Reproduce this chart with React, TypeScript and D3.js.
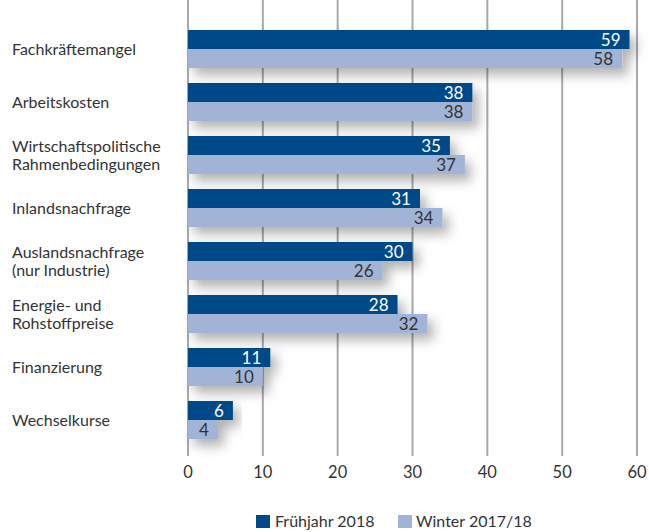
import React from "react";
import * as d3 from "d3";

const categories = [
  ["Fachkräftemangel"],
  ["Arbeitskosten"],
  ["Wirtschaftspolitische", "Rahmenbedingungen"],
  ["Inlandsnachfrage"],
  ["Auslandsnachfrage", "(nur Industrie)"],
  ["Energie- und", "Rohstoffpreise"],
  ["Finanzierung"],
  ["Wechselkurse"],
];
const fruehjahr2018 = [59, 38, 35, 31, 30, 28, 11, 6];
const winter2017 = [58, 38, 37, 34, 26, 32, 10, 4];
const ticks = [0, 10, 20, 30, 40, 50, 60];
const seriesNames = ["Frühjahr 2018", "Winter 2017/18"];

const W = 649;
const H = 532;
const DARK = "#004a89";
const LIGHT = "#a2b4d5";
const GRID = "#a9a9ab";
const TEXT = "#333333";
const FONT = "Lato, 'Noto Sans', sans-serif";

export default function App() {
  const x = d3.scaleLinear().domain([0, 60]).range([188, 637]);
  const keys = categories.map((c) => c.join(" "));
  const y = d3
    .scaleBand<string>()
    .domain(keys)
    .range([30, 439])
    .paddingInner(15 / 53)
    .paddingOuter(0);
  const bw = y.bandwidth() / 2;

  return (
    <div style={{ position: "absolute", left: 0, top: 0 }}>
      <svg width={W} height={H} style={{ display: "block", background: "#fff" }}>
        <defs>
          <filter id="sh" x="-10%" y="-50%" width="130%" height="250%">
            <feDropShadow dx="6" dy="7" stdDeviation="6" floodColor="#000" floodOpacity="0.3" />
          </filter>
        </defs>
        {ticks.map((t) => (
          <line key={t} x1={x(t)} x2={x(t)} y1={0} y2={456} stroke={GRID} strokeWidth={2} />
        ))}
        {keys.map((k, i) => {
          const y0 = y(k)!;
          return (
            <g key={k} filter="url(#sh)">
              <rect x={x(0)} y={y0} width={x(fruehjahr2018[i]) - x(0)} height={bw} fill={DARK} />
              <rect x={x(0)} y={y0 + bw} width={x(winter2017[i]) - x(0)} height={bw} fill={LIGHT} />
            </g>
          );
        })}
        {keys.map((k, i) => {
          const y0 = y(k)!;
          return (
            <g key={k + "l"} fontFamily={FONT} fontSize={17} textAnchor="end">
              <text x={x(fruehjahr2018[i]) - 9} y={y0 + bw / 2} dy="0.36em" fill="#fff">
                {fruehjahr2018[i]}
              </text>
              <text x={x(winter2017[i]) - 9} y={y0 + bw * 1.5} dy="0.36em" fill={TEXT}>
                {winter2017[i]}
              </text>
            </g>
          );
        })}
        {categories.map((lines, i) => {
          const c = y(keys[i])! + y.bandwidth() / 2;
          const lh = 18;
          const start = c - ((lines.length - 1) * lh) / 2;
          return (
            <text key={keys[i] + "c"} fontFamily={FONT} fontSize={16} fill={TEXT}>
              {lines.map((ln, j) => (
                <tspan key={j} x={12} y={start + j * lh} dy="0.36em">
                  {ln}
                </tspan>
              ))}
            </text>
          );
        })}
        {ticks.map((t) => (
          <text key={"t" + t} x={x(t)} y={472} dy="0.36em" textAnchor="middle" fontFamily={FONT} fontSize={16.5} fill={TEXT}>
            {t}
          </text>
        ))}
        <g fontFamily={FONT} fontSize={16} fill={TEXT}>
          <rect x={256} y={515} width={14} height={13} fill={DARK} />
          <text x={275} y={527}>{seriesNames[0]}</text>
          <rect x={398} y={515} width={14} height={13} fill={LIGHT} />
          <text x={416} y={527}>{seriesNames[1]}</text>
        </g>
      </svg>
    </div>
  );
}
